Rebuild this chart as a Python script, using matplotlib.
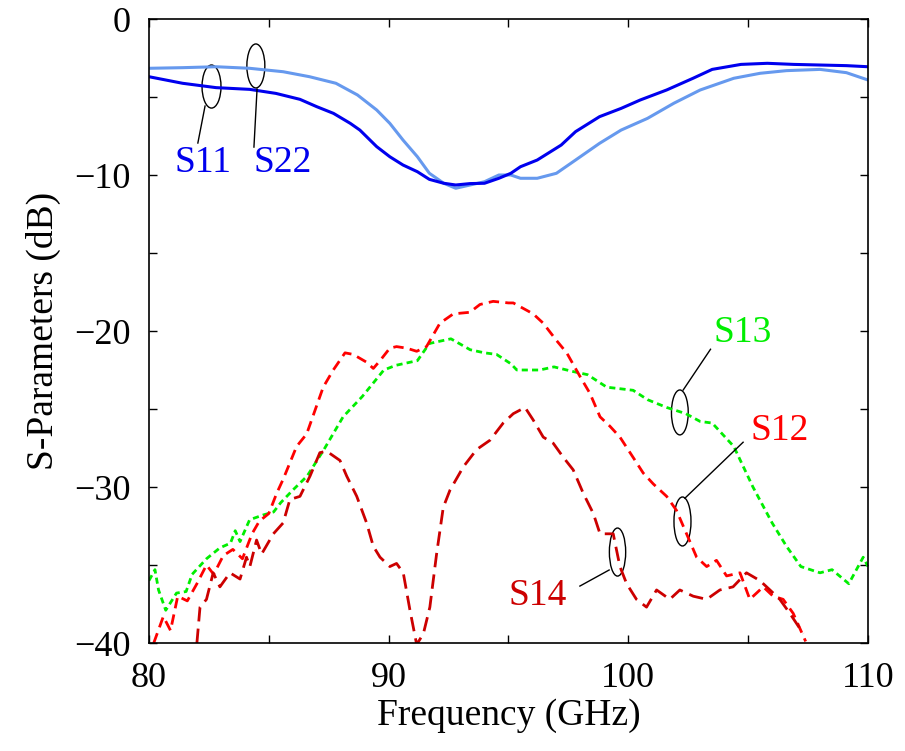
import matplotlib
matplotlib.use("Agg")
import matplotlib.pyplot as plt
from matplotlib.patches import Ellipse

plt.rcParams['font.family'] = ['Liberation Serif', 'DejaVu Serif']

# S11 (dark blue, solid)
f11 = [80.0, 80.2, 81.4, 82.8, 84.2, 85.3, 86.3, 87.0, 87.7, 88.4,
       88.8, 89.5, 90.05, 90.6, 91.2, 91.7, 92.3, 92.8, 93.4, 94.0,
       94.6, 95.1, 95.5, 96.2, 97.2, 97.8, 98.8, 99.7, 100.5, 101.6,
       102.7, 103.5, 104.7, 105.8, 106.9, 108.0, 109.1, 110.0]
s11 = [-3.7, -3.76, -4.12, -4.40, -4.51, -4.77, -5.15, -5.62, -6.05, -6.69,
       -7.12, -8.18, -8.83, -9.36, -9.79, -10.28, -10.53, -10.64, -10.55, -10.53,
       -10.21, -9.89, -9.47, -9.04, -8.08, -7.22, -6.26, -5.73, -5.19, -4.55,
       -3.80, -3.23, -2.91, -2.84, -2.91, -2.95, -2.99, -3.06]

# S22 (light blue, solid)
f22 = [80.0, 81.4, 82.8, 84.2, 85.6, 86.7, 87.8, 88.7, 89.5, 90.05,
       90.6, 91.2, 91.7, 92.3, 92.8, 93.4, 94.0, 94.6, 95.1, 95.5,
       96.2, 97.0, 97.8, 98.8, 99.7, 100.8, 101.9, 103.0, 104.4, 105.5,
       106.6, 108.0, 109.1, 110.0]
s22 = [-3.16, -3.12, -3.06, -3.16, -3.38, -3.70, -4.12, -4.87, -5.83, -6.69,
       -7.76, -8.83, -9.89, -10.53, -10.85, -10.64, -10.43, -10.0, -10.0, -10.21,
       -10.21, -9.89, -9.04, -7.97, -7.12, -6.37, -5.40, -4.55, -3.80, -3.48,
       -3.31, -3.23, -3.44, -3.91]

# S13 (green, dotted)
f13 = [80.0, 80.25, 80.4, 80.7, 81.15, 81.55, 81.8, 82.4, 82.96, 83.4,
       83.6, 83.8, 84.2, 84.75, 85.2, 85.5, 86.0, 86.6, 87.3, 88.1,
       88.9, 89.8, 90.3, 91.2, 91.7, 92.6, 93.4, 94.0, 94.5, 95.1,
       95.35, 96.3, 96.9, 97.7, 98.3, 99.1, 100.2, 100.8, 101.6, 102.4,
       103.0, 103.5, 104.4, 105.2, 106.0, 106.6, 107.2, 108.0, 108.5, 109.2,
       109.8, 110.0]
s13 = [-36.0, -35.3, -36.6, -37.9, -36.8, -36.7, -35.6, -34.6, -33.9, -33.6,
       -32.8, -33.5, -32.1, -31.8, -31.6, -31.0, -30.2, -29.3, -27.6, -25.5,
       -24.2, -22.5, -22.2, -21.9, -20.8, -20.5, -21.2, -21.4, -21.5, -22.1,
       -22.5, -22.5, -22.3, -22.6, -22.8, -23.6, -23.8, -24.4, -24.9, -25.3,
       -25.8, -25.9, -27.4, -30.0, -32.3, -33.8, -35.1, -35.5, -35.3, -36.2,
       -34.5, -35.1]

# S12 (red, dashed)
f12 = [80.2, 80.6, 80.9, 81.2, 81.6, 82.0, 82.4, 82.7, 83.1, 83.5,
       83.9, 84.3, 84.6, 85.0, 85.33, 85.6, 86.16, 86.58, 87.27, 87.69,
       88.18, 88.52, 89.08, 89.36, 89.64, 90.05, 90.33, 90.75, 91.17, 91.58,
       92.14, 92.7, 93.39, 93.81, 94.36, 95.0, 95.2, 96.03, 96.45, 97.0,
       97.43, 97.98, 98.4, 98.82, 99.23, 99.65, 100.2, 100.62, 101.04, 101.6,
       102.01, 102.43, 102.85, 103.27, 103.68, 104.1, 104.66, 105.07, 105.63, 106.04,
       106.46, 106.88, 107.4]
s12 = [-40.0, -38.3, -39.2, -37.0, -37.3, -36.2, -35.0, -35.6, -34.4, -34.0,
       -34.6, -33.0, -32.2, -31.7, -30.4, -29.5, -27.4, -26.6, -23.6, -22.5,
       -21.4, -21.5, -22.0, -22.4, -21.9, -21.1, -21.0, -21.1, -21.3, -21.0,
       -19.5, -18.9, -18.8, -18.3, -18.1, -18.2, -18.2, -18.9, -19.5, -20.6,
       -21.4, -22.9, -24.0, -25.5, -26.1, -26.8, -28.1, -29.1, -29.8, -30.6,
       -31.5, -33.0, -34.5, -35.1, -34.7, -35.7, -35.5, -37.2, -36.4, -37.0,
       -37.2, -38.1, -39.9]

# S14 (dark red, long dash)
f14 = [82.0, 82.13, 82.4, 82.68, 82.96, 83.38, 83.8, 84.07, 84.21, 84.49,
       84.7, 85.19, 85.6, 85.88, 86.3, 86.72, 87.13, 87.41, 87.97, 88.25,
       88.67, 89.08, 89.36, 89.64, 90.05, 90.33, 90.61, 90.89, 91.17, 91.45,
       91.72, 92.0, 92.28, 92.56, 93.12, 93.67, 94.23, 94.78, 95.2, 95.69,
       96.03, 96.45, 96.87, 97.29, 97.7, 98.12, 98.54, 98.82, 99.37, 99.65,
       99.93, 100.34, 100.76, 101.18, 101.73, 102.15, 102.71, 103.27, 103.82, 104.37,
       104.93, 105.49, 105.91, 106.32, 106.74, 107.3]
s14 = [-40.0, -37.7, -37.2, -35.5, -36.4, -35.5, -35.9, -34.5, -35.1, -33.4,
       -34.3, -33.0, -32.3, -30.8, -30.6, -29.3, -27.8, -27.7, -28.3, -29.3,
       -30.6, -32.3, -33.8, -34.5, -35.1, -34.9, -35.5, -37.9, -40.1, -39.4,
       -37.7, -34.3, -31.3, -30.2, -28.7, -27.6, -27.0, -25.9, -25.3, -24.9,
       -25.7, -26.8, -27.2, -28.1, -28.9, -30.4, -31.7, -33.0, -33.0, -35.1,
       -36.2, -37.2, -37.7, -36.6, -37.2, -36.6, -37.0, -37.2, -36.6, -36.4,
       -35.5, -36.0, -36.6, -37.2, -38.1, -39.4]

fig = plt.figure(figsize=(9.05, 7.51), dpi=100)
ax = fig.add_axes([0.1646, 0.1438, 0.7945, 0.8309])

ax.plot(f22, s22, color='#6699ee', lw=2.2)
ax.plot(f11, s11, color='#0000ee', lw=2.2)
ax.plot(f13, s13, color='#00ee00', lw=2, dashes=(2.2, 1.5))
ax.plot(f12, s12, color='#ff0000', lw=2, dashes=(3.75, 2.25))
ax.plot(f14, s14, color='#cc0000', lw=2, dashes=(5.2, 2.6))

# annotation ellipses + leader lines
ell = [(82.61, -4.33, 0.79, 2.76), (84.46, -3.01, 0.75, 2.82),
       (102.15, -25.22, 0.70, 2.88), (102.26, -32.21, 0.71, 3.14),
       (99.55, -34.17, 0.68, 3.08)]
for cx, cy, w, h in ell:
    ax.add_patch(Ellipse((cx, cy), w, h, fill=False, ec='black', lw=1))

leaders = [((82.34, 82.04), (-5.58, -7.95)), ((84.51, 84.38), (-4.49, -8.21)),
           ((102.29, 103.43), (-23.78, -21.17)), ((102.36, 104.79), (-30.72, -27.13)),
           ((99.2, 97.98), (-35.32, -36.35))]
for xs, ys in leaders:
    ax.plot(xs, ys, color='black', lw=1)

fs = 27
ax.text(82.27, -9.2, 'S11', color='#0000ee', fontsize=fs, ha='center', va='center')
ax.text(85.57, -9.2, 'S22', color='#0000ee', fontsize=fs, ha='center', va='center')
ax.text(104.78, -20.1, 'S13', color='#00ee00', fontsize=fs, ha='center', va='center')
ax.text(106.32, -26.41, 'S12', color='#ff0000', fontsize=fs, ha='center', va='center')
ax.text(96.23, -36.99, 'S14', color='#cc0000', fontsize=fs, ha='center', va='center')

ax.set_xlim(80, 110)
ax.set_ylim(-40, 0)
ax.set_xticks([80, 90, 100, 110])
ax.set_xticks([85, 95, 105], minor=True)
ax.set_yticks([-40, -30, -20, -10, 0])
ax.set_yticks([-35, -25, -15, -5], minor=True)
ax.tick_params(which='both', direction='in', top=True, right=True,
               length=6, width=1, labelsize=26)
ax.tick_params(axis='y', pad=13)
ax.tick_params(axis='x', pad=14)
for sp in ax.spines.values():
    sp.set_linewidth(1.2)

ax.set_xlabel('Frequency (GHz)', fontsize=27, labelpad=2)
ax.set_ylabel('S-Parameters (dB)', fontsize=27, labelpad=10)

fig.savefig('out.png', dpi=100)
